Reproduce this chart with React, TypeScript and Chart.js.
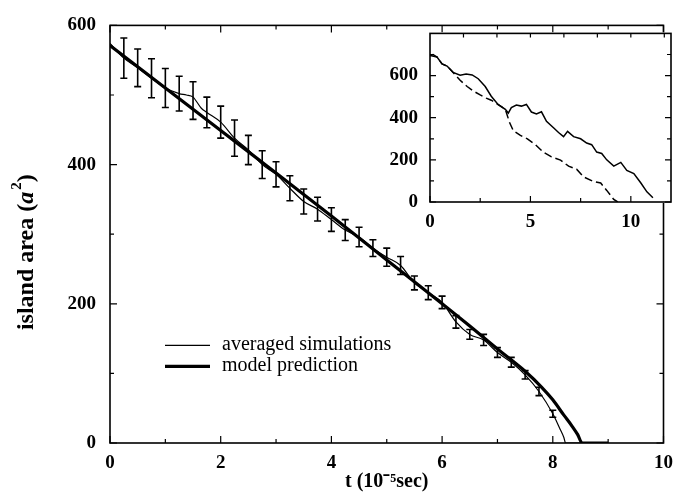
import React, { useEffect, useRef } from 'react';
import { Chart, registerables } from 'chart.js';

Chart.register(...registerables);

// ---------- main plot data ----------
const modelT = [0, 1, 2, 3, 4, 5, 6, 6.5, 7, 7.5, 7.8, 8.0, 8.2, 8.35, 8.45, 8.53, 9.0];
const modelV = [571, 510, 449, 388, 326, 263, 200, 168, 135, 103, 80, 62, 40, 24, 12, 0, 0];

const simT = [0, 0.25, 0.5, 0.75, 1.0, 1.25, 1.38, 1.5, 1.65, 1.75, 2.0, 2.25, 2.5, 2.75, 3.0, 3.25, 3.5, 3.75, 4.0, 4.25, 4.5, 4.75, 5.0, 5.25, 5.5, 5.75, 6.0, 6.25, 6.5, 6.75, 7.0, 7.25, 7.5, 7.75, 8.0, 8.12, 8.2, 8.23, 8.6];
const simV = [574, 553, 539, 524, 510, 502, 500, 497, 481, 475, 461, 438, 421, 400, 386, 366, 347, 336, 321, 306, 296, 280, 267, 255, 230, 216, 202, 174, 156, 148, 130, 116, 98, 74, 42, 22, 8, 0, 0];

const errT = [0.25, 0.5, 0.75, 1.0, 1.25, 1.5, 1.75, 2.0, 2.25, 2.5, 2.75, 3.0, 3.25, 3.5, 3.75, 4.0, 4.25, 4.5, 4.75, 5.0, 5.25, 5.5, 5.75, 6.0, 6.25, 6.5, 6.75, 7.0, 7.25, 7.5, 7.75, 8.0];
const errMean = [553, 539, 524, 510, 502, 492, 475, 461, 438, 421, 400, 386, 366, 347, 336, 321, 306, 296, 280, 267, 255, 230, 216, 202, 174, 156, 148, 130, 116, 98, 74, 42];
const errHalf = [29, 27, 28, 28, 25, 27, 22, 23, 26, 21, 20, 18, 18, 18, 17, 17, 15, 14, 12, 13, 13, 10, 10, 9, 9, 7, 8, 7, 7, 6, 6, 5];

const mainXLabels = [0, 2, 4, 6, 8, 10];
const mainYLabels = [0, 200, 400, 600];

// ---------- inset data ----------
const insetSolidT = [0, 0.15, 0.35, 0.6, 0.85, 1.15, 1.5, 1.8, 2.1, 2.4, 2.75, 3.05, 3.4, 3.75, 3.9, 4.05, 4.3, 4.55, 4.8, 5.05, 5.3, 5.55, 5.8, 6.15, 6.4, 6.65, 6.85, 7.15, 7.5, 7.8, 8.05, 8.3, 8.55, 8.8, 9.15, 9.5, 9.8, 10.15, 10.5, 10.8, 11.1];
const insetSolidV = [695, 700, 688, 655, 645, 615, 602, 607, 603, 585, 548, 502, 462, 440, 422, 448, 460, 455, 463, 427, 418, 428, 383, 352, 330, 310, 335, 310, 300, 280, 272, 237, 230, 200, 170, 188, 150, 135, 90, 48, 20];
const insetDashT = [0, 0.35, 0.6, 0.85, 1.15, 1.5, 1.85, 2.15, 2.5, 2.8, 3.05, 3.4, 3.75, 3.95, 4.15, 4.5, 4.85, 5.25, 5.65, 6.05, 6.5, 6.9, 7.3, 7.65, 8.15, 8.5, 8.8, 9.15, 9.35];
const insetDashV = [695, 688, 655, 645, 615, 578, 548, 527, 508, 493, 483, 462, 440, 380, 338, 316, 300, 272, 236, 214, 199, 170, 156, 119, 97, 90, 55, 12, 0];

const insetXLabels = [0, 5, 10];
const insetYLabels = [0, 200, 400, 600];

const yTitleParts = ['island area (', 'a', '2', ')'];
const xTitle = 't (10⁻⁵sec)';

const FONT = "'Liberation Serif', 'Times New Roman', serif";

const pts = (xs: number[], ys: number[]) => xs.map((x, i) => ({ x, y: ys[i] }));
const range = (a: number, b: number, s: number) => {
  const out: number[] = [];
  for (let v = a; v <= b + 1e-9; v += s) out.push(+v.toFixed(4));
  return out;
};

type FrameCfg = {
  id: string;
  fill: boolean;
  frameWidth: number;
  bottomMajor: number[];
  bottomMinor: number[];
  topMajor: number[];
  topMinor: number[];
  yMajor: number[];
  yMinor: number[];
  major: number;
  minor: number;
};

function framePlugin(cfg: FrameCfg) {
  return {
    id: cfg.id,
    beforeDraw(chart: any) {
      if (!cfg.fill) return;
      const { ctx, chartArea: a } = chart;
      ctx.save();
      ctx.fillStyle = '#fff';
      ctx.fillRect(a.left - 1, a.top - 1, a.right - a.left + 2, a.bottom - a.top + 2);
      ctx.restore();
    },
    afterDraw(chart: any) {
      const { ctx, chartArea: a, scales } = chart;
      const xs = scales.x;
      const ys = scales.y;
      ctx.save();
      ctx.strokeStyle = '#000';
      ctx.lineWidth = cfg.frameWidth;
      ctx.strokeRect(a.left, a.top, a.right - a.left, a.bottom - a.top);
      ctx.lineWidth = 1.2;
      ctx.beginPath();
      const hx = (vals: number[], len: number, top: boolean) => {
        vals.forEach((v) => {
          const p = xs.getPixelForValue(v);
          if (p < a.left - 0.5 || p > a.right + 0.5) return;
          if (top) { ctx.moveTo(p, a.top); ctx.lineTo(p, a.top + len); }
          else { ctx.moveTo(p, a.bottom); ctx.lineTo(p, a.bottom - len); }
        });
      };
      const vy = (vals: number[], len: number) => {
        vals.forEach((v) => {
          const p = ys.getPixelForValue(v);
          if (p < a.top - 0.5 || p > a.bottom + 0.5) return;
          ctx.moveTo(a.left, p); ctx.lineTo(a.left + len, p);
          ctx.moveTo(a.right, p); ctx.lineTo(a.right - len, p);
        });
      };
      hx(cfg.bottomMajor, cfg.major, false);
      hx(cfg.bottomMinor, cfg.minor, false);
      hx(cfg.topMajor, cfg.major, true);
      hx(cfg.topMinor, cfg.minor, true);
      vy(cfg.yMajor, cfg.major);
      vy(cfg.yMinor, cfg.minor);
      ctx.stroke();
      ctx.restore();
    },
  };
}

const errorBarPlugin = {
  id: 'errbars',
  afterDatasetsDraw(chart: any) {
    const { ctx, scales } = chart;
    const x = scales.x;
    const y = scales.y;
    ctx.save();
    ctx.strokeStyle = '#000';
    ctx.lineWidth = 1.6;
    ctx.beginPath();
    errT.forEach((t, i) => {
      const px = x.getPixelForValue(t);
      const top = y.getPixelForValue(errMean[i] + errHalf[i]);
      const bot = y.getPixelForValue(errMean[i] - errHalf[i]);
      ctx.moveTo(px, top); ctx.lineTo(px, bot);
      ctx.moveTo(px - 3.5, top); ctx.lineTo(px + 3.5, top);
      ctx.moveTo(px - 3.5, bot); ctx.lineTo(px + 3.5, bot);
    });
    ctx.stroke();
    ctx.restore();
  },
};

const legendPlugin = {
  id: 'inlegend',
  afterDraw(chart: any) {
    const { ctx, chartArea: a } = chart;
    const ds = chart.data.datasets;
    const x0 = a.left + 55;
    const x1 = a.left + 100;
    const rows = [
      { y: a.top + 320, w: 1.2, text: ds[1].label },
      { y: a.top + 341, w: 3.2, text: ds[0].label },
    ];
    ctx.save();
    ctx.fillStyle = '#000';
    ctx.strokeStyle = '#000';
    ctx.font = `20px ${FONT}`;
    ctx.textBaseline = 'middle';
    ctx.textAlign = 'left';
    rows.forEach((r) => {
      ctx.lineWidth = r.w;
      ctx.beginPath();
      ctx.moveTo(x0, r.y);
      ctx.lineTo(x1, r.y);
      ctx.stroke();
      ctx.fillText(r.text, x1 + 12, r.y - 1);
    });
    ctx.restore();
  },
};

// y-axis title with italic "a" and superscript 2
const yTitlePlugin = {
  id: 'ytitle',
  afterDraw(chart: any) {
    const { ctx, chartArea: a } = chart;
    const size = 24;
    const fonts = [
      `bold ${size}px ${FONT}`,
      `italic bold ${size}px ${FONT}`,
      `bold ${Math.round(size * 0.62)}px ${FONT}`,
      `bold ${size}px ${FONT}`,
    ];
    ctx.save();
    const widths = yTitleParts.map((t, i) => { ctx.font = fonts[i]; return ctx.measureText(t).width; });
    const total = widths.reduce((s, w) => s + w, 0) + 2;
    const cx = a.left - 83;
    const cy = (a.top + a.bottom) / 2 + 18;
    ctx.translate(cx, cy);
    ctx.rotate(-Math.PI / 2);
    ctx.fillStyle = '#000';
    ctx.textBaseline = 'middle';
    ctx.textAlign = 'left';
    let x = -total / 2;
    yTitleParts.forEach((t, i) => {
      ctx.font = fonts[i];
      const dy = i === 2 ? -size * 0.42 : 0;
      ctx.fillText(t, x, dy);
      x += widths[i] + (i === 1 ? 2 : 0);
    });
    ctx.restore();
  },
};

export default function App() {
  const mainRef = useRef<HTMLCanvasElement>(null);
  const insetRef = useRef<HTMLCanvasElement>(null);

  useEffect(() => {
    const tickFont = { family: FONT, size: 19, weight: 'bold' as const };

    const main = new Chart(mainRef.current!, {
      type: 'line',
      data: {
        datasets: [
          {
            label: 'model prediction',
            data: pts(modelT, modelV),
            borderColor: '#000',
            borderWidth: 3.2,
            pointRadius: 0,
            cubicInterpolationMode: 'monotone',
            fill: false,
          },
          {
            label: 'averaged simulations',
            data: pts(simT, simV),
            borderColor: '#000',
            borderWidth: 1.2,
            pointRadius: 0,
            cubicInterpolationMode: 'monotone',
            fill: false,
          },
        ],
      },
      options: {
        animation: false,
        responsive: false,
        layout: { padding: { top: 20, right: 11, left: 0, bottom: 0 } },
        plugins: { legend: { display: false }, tooltip: { enabled: false } },
        scales: {
          x: {
            type: 'linear',
            min: 0,
            max: 10,
            afterBuildTicks: (s: any) => { s.ticks = mainXLabels.map((v) => ({ value: v })); },
            afterFit: (s: any) => { s.height = 55; },
            grid: { display: false, drawTicks: false },
            border: { display: false },
            ticks: { font: tickFont, color: '#000', padding: 9, maxRotation: 0 },
            title: {
              display: true,
              text: xTitle,
              color: '#000',
              font: { family: FONT, size: 20, weight: 'bold' },
              padding: { top: 0, bottom: 4 },
            },
          },
          y: {
            type: 'linear',
            min: 0,
            max: 600,
            afterBuildTicks: (s: any) => { s.ticks = mainYLabels.map((v) => ({ value: v })); },
            afterFit: (s: any) => { s.width = 110; },
            grid: { display: false, drawTicks: false },
            border: { display: false },
            ticks: { font: tickFont, color: '#000', padding: 14 },
          },
        },
      },
      plugins: [
        framePlugin({
          id: 'mainframe',
          fill: false,
          frameWidth: 1.6,
          bottomMajor: range(0, 10, 2),
          bottomMinor: range(1, 9, 2),
          topMajor: range(0, 10, 2),
          topMinor: range(1, 9, 2),
          yMajor: range(0, 600, 200),
          yMinor: range(100, 500, 200),
          major: 7,
          minor: 4,
        }),
        errorBarPlugin,
        legendPlugin,
        yTitlePlugin,
      ],
    } as any);

    const inset = new Chart(insetRef.current!, {
      type: 'line',
      data: {
        datasets: [
          {
            label: 'solid',
            data: pts(insetSolidT, insetSolidV),
            borderColor: '#000',
            borderWidth: 1.5,
            pointRadius: 0,
            tension: 0,
            fill: false,
          },
          {
            label: 'dashed',
            data: pts(insetDashT, insetDashV),
            borderColor: '#000',
            borderWidth: 1.5,
            borderDash: [8, 4],
            pointRadius: 0,
            tension: 0,
            fill: false,
          },
        ],
      },
      options: {
        animation: false,
        responsive: false,
        layout: { padding: { top: 10, right: 11, left: 0, bottom: 0 } },
        plugins: { legend: { display: false }, tooltip: { enabled: false } },
        scales: {
          x: {
            type: 'linear',
            min: 0,
            max: 12,
            afterBuildTicks: (s: any) => { s.ticks = insetXLabels.map((v) => ({ value: v })); },
            afterFit: (s: any) => { s.height = 38; },
            grid: { display: false, drawTicks: false },
            border: { display: false },
            ticks: { font: tickFont, color: '#000', padding: 9, maxRotation: 0 },
          },
          y: {
            type: 'linear',
            min: 0,
            max: 800,
            afterBuildTicks: (s: any) => { s.ticks = insetYLabels.map((v) => ({ value: v })); },
            afterFit: (s: any) => { s.width = 60; },
            grid: { display: false, drawTicks: false },
            border: { display: false },
            ticks: { font: tickFont, color: '#000', padding: 12 },
          },
        },
      },
      plugins: [
        framePlugin({
          id: 'insetframe',
          fill: true,
          frameWidth: 1.6,
          bottomMajor: range(0, 10, 5),
          bottomMinor: [2.5, 7.5],
          topMajor: [],
          topMinor: range(5 / 3, 11.7, 5 / 3),
          yMajor: range(0, 600, 200),
          yMinor: range(100, 700, 100),
          major: 6,
          minor: 4,
        }),
      ],
    } as any);

    return () => {
      main.destroy();
      inset.destroy();
    };
  }, []);

  return (
    <div style={{ position: 'absolute', left: 0, top: 0, width: 682, height: 498, background: '#fff' }}>
      <canvas ref={mainRef} width={682} height={498} style={{ position: 'absolute', left: 0, top: 0, width: 682, height: 498 }} />
      <canvas ref={insetRef} width={312} height={230} style={{ position: 'absolute', left: 370, top: 10, width: 312, height: 230 }} />
    </div>
  );
}
